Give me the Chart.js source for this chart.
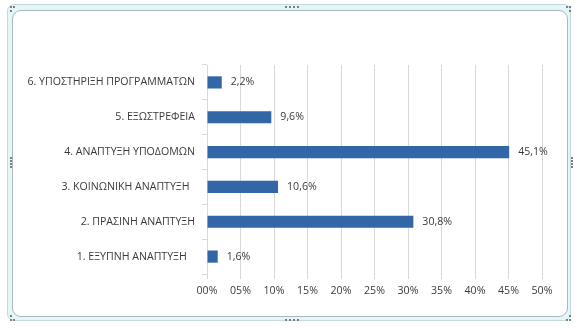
<!DOCTYPE html>
<html>
<head>
<meta charset="utf-8">
<script src="https://cdn.jsdelivr.net/npm/chart.js@4"></script>
<style>
  html, body { margin:0; padding:0; background:#ffffff; }
  body { width:580px; height:328px; position:relative; overflow:hidden; }
  #outer { position:absolute; left:7px; top:4px; width:564px; height:317px; box-sizing:border-box;
           background:#e3f6f8; border:1px solid #c3d9dc; border-radius:7px; }
  #inner { position:absolute; left:12px; top:10px; width:556px; height:307px; box-sizing:border-box;
           background:#ffffff; border:1px solid #aeb8bb; border-radius:9px; }
  .d { position:absolute; width:2px; height:2px; background:#7a7f82; }
  canvas { position:absolute; left:0; top:0; }
</style>
</head>
<body>
<div id="outer"></div>
<div id="inner"></div>
<div id="dots"></div>
<canvas id="c" width="580" height="328"></canvas>
<script>
const categories = [
  "6. ΥΠΟΣΤΗΡΙΞΗ ΠΡΟΓΡΑΜΜΑΤΩΝ",
  "5. ΕΞΩΣΤΡΕΦΕΙΑ",
  "4. ΑΝΑΠΤΥΞΗ ΥΠΟΔΟΜΩΝ",
  "3. ΚΟΙΝΩΝΙΚΗ ΑΝΑΠΤΥΞΗ  ",
  "2. ΠΡΑΣΙΝΗ ΑΝΑΠΤΥΞΗ",
  "1. ΕΞΥΠΝΗ ΑΝΑΠΤΥΞΗ   "
];
const values = [2.2, 9.6, 45.1, 10.6, 30.8, 1.6];
const valueLabels = ["2,2%", "9,6%", "45,1%", "10,6%", "30,8%", "1,6%"];
const xTickLabels = ["00%","05%","10%","15%","20%","25%","30%","35%","40%","45%","50%"];

// handle dots
const dotPos = [[285,6],[289,6],[293,6],[297,6],[285,319],[289,319],[293,319],[297,319],
  [10,157],[10,160],[10,163],[10,166],[571,157],[571,160],[571,163],[571,166],
  [10,6],[13,6],[10,10],[566,6],[569,6],[569,10],[10,319],[13,319],[10,315],[566,319],[569,319],[569,315]];
const dc = document.getElementById('dots');
dotPos.forEach(p => { const e = document.createElement('div'); e.className='d'; e.style.left=p[0]+'px'; e.style.top=p[1]+'px'; dc.appendChild(e); });

const FONT = "'Open Sans', 'Noto Sans', sans-serif";
const TXT = '#3a3a3a';

const labelPlugin = {
  id: 'barLabels',
  afterDatasetsDraw(chart) {
    const ctx = chart.ctx;
    const meta = chart.getDatasetMeta(0);
    ctx.save();
    ctx.font = "10.6px " + FONT;
    ctx.fillStyle = TXT;
    ctx.textAlign = 'left';
    ctx.textBaseline = 'middle';
    meta.data.forEach((bar, i) => {
      ctx.fillText(valueLabels[i], bar.x + 9, bar.y);
    });
    ctx.restore();
  }
};

new Chart(document.getElementById('c'), {
  type: 'bar',
  data: {
    labels: categories,
    datasets: [{
      data: values,
      backgroundColor: '#3366a6',
      borderWidth: 0,
      barPercentage: 0.35,
      categoryPercentage: 1.0
    }]
  },
  options: {
    indexAxis: 'y',
    responsive: false,
    devicePixelRatio: 1,
    animation: false,
    events: [],
    layout: { padding: { top: 65, right: 38, bottom: 0, left: 0 } },
    plugins: { legend: { display: false }, tooltip: { enabled: false } },
    scales: {
      x: {
        min: 0, max: 50,
        ticks: {
          stepSize: 5,
          color: TXT,
          font: { family: FONT, size: 10.6 },
          padding: 6,
          maxRotation: 0,
          autoSkip: false,
          callback: (v, i) => xTickLabels[i]
        },
        grid: { color: '#d9d9d9', lineWidth: 1, tickLength: 5, drawTicks: true },
        border: { display: false },
        afterFit: (axis) => { axis.height = 54; }
      },
      y: {
        ticks: {
          color: TXT,
          font: { family: FONT, size: 10.6 },
          padding: 7,
          autoSkip: false
        },
        grid: { drawOnChartArea: false, color: '#d9d9d9', tickLength: 5, offset: true },
        border: { display: true, color: '#d9d9d9' },
        afterFit: (axis) => { axis.width = 207; }
      }
    }
  },
  plugins: [labelPlugin]
});
</script>
</body>
</html>
